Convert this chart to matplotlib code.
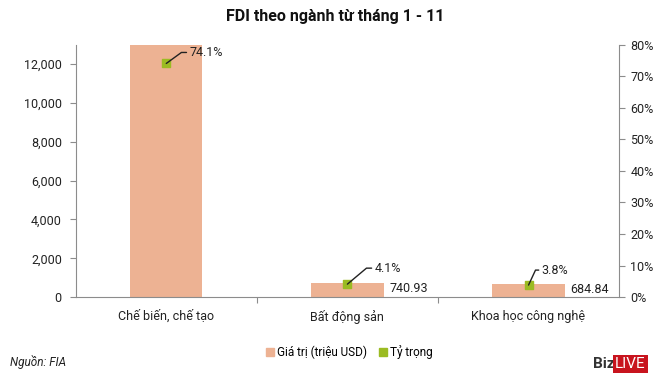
import matplotlib.pyplot as plt
import numpy as np

plt.rcParams['font.family'] = ['Roboto', 'DejaVu Sans']

categories = ["Chế biến, chế tạo", "Bất động sản", "Khoa học công nghệ"]
gia_tri = [13390, 740.93, 684.84]
ty_trong = [74.1, 4.1, 3.8]
value_labels = ["", "740.93", "684.84"]
pct_labels = ["74.1%", "4.1%", "3.8%"]

bar_color = "#EDB293"
dot_color = "#9BBB22"
text_color = "#222222"
axis_color = "#8C8C8C"

fig = plt.figure(figsize=(6.7, 3.77), dpi=100)
ax = fig.add_axes([0.113, 0.212, 0.811, 0.669])
ax2 = ax.twinx()

x = np.arange(len(categories))
ax.bar(x, gia_tri, width=0.40, color=bar_color, zorder=2)
ax.set_xlim(-0.5, 2.5)
ax.set_ylim(0, 13000)
ax.set_yticks(range(0, 13000, 2000))
ax.set_yticklabels([f"{v:,}" for v in range(0, 13000, 2000)])

# value labels right of the small bars
for i, lab in enumerate(value_labels):
    if lab:
        ax.text(i + 0.23, gia_tri[i] * 0.58, lab, ha="left", va="center",
                fontsize=9, color=text_color)

ax2.scatter(x, ty_trong, marker="s", s=38, color=dot_color, zorder=5)
ax2.set_ylim(0, 80)
ax2.set_yticks(range(0, 81, 10))
ax2.set_yticklabels([f"{v}%" for v in range(0, 81, 10)])

# leader lines: diagonal from the point, short horizontal into the label
offsets = [(23, 11), (27, 16), (13, 15)]
angles = [36, 40, 65]
for i, lab in enumerate(pct_labels):
    ax2.annotate(lab, xy=(x[i], ty_trong[i]), xytext=offsets[i],
                 textcoords="offset pixels", ha="left", va="center",
                 fontsize=9, color=text_color, zorder=6,
                 arrowprops=dict(arrowstyle="-", color="#222222", lw=1.0,
                                 shrinkA=0, shrinkB=0, relpos=(0, 0.5),
                                 connectionstyle=f"angle,angleA=0,angleB={angles[i]},rad=0"))

# category separators on x axis
ax.set_xticks([0.5, 1.5], minor=False)
ax.set_xticklabels([])
ax.tick_params(axis="x", length=4, color=axis_color)
for i, c in enumerate(categories):
    ax.text(x[i], -0.05, c, transform=ax.get_xaxis_transform(), ha="center",
            va="top", fontsize=9, color=text_color)

for a in (ax, ax2):
    for s in a.spines.values():
        s.set_visible(False)
ax.spines["left"].set_visible(True)
ax.spines["bottom"].set_visible(True)
ax2.spines["right"].set_visible(True)
ax.spines["left"].set_color(axis_color)
ax.spines["bottom"].set_color(axis_color)
ax2.spines["right"].set_color(axis_color)
ax.tick_params(axis="y", length=4, color=axis_color, labelsize=9,
               labelcolor=text_color, pad=6)
ax2.tick_params(axis="y", length=4, color=axis_color, labelsize=9,
                labelcolor=text_color, pad=4)

fig.text(0.5, 0.955, "FDI theo ngành từ tháng 1 - 11", ha="center", va="center",
         fontsize=11.5, fontweight="bold", color="#111111")

# legend
h1 = plt.Line2D([], [], marker="s", linestyle="none", color=bar_color, markersize=6)
h2 = plt.Line2D([], [], marker="s", linestyle="none", color=dot_color, markersize=6)
fig.legend([h1, h2], ["Giá trị (triệu USD)", "Tỷ trọng"], loc="center",
           bbox_to_anchor=(0.52, 0.066), ncol=2, frameon=False, fontsize=8.5,
           handletextpad=0.1, columnspacing=0.8, handlelength=1.0)

fig.text(0.015, 0.04, "Nguồn: FIA", ha="left", va="center", fontsize=8.5,
         style="italic", color=text_color)

# BizLIVE mark
fig.text(0.885, 0.035, "Biz", ha="left", va="center", fontsize=11,
         fontweight="bold", color="#333333")
fig.text(0.918, 0.035, "LIVE", ha="left", va="center", fontsize=11,
         color="white", bbox=dict(boxstyle="square,pad=0.12", fc="#C8141E", ec="none"))

fig.savefig("out.png", dpi=100)
